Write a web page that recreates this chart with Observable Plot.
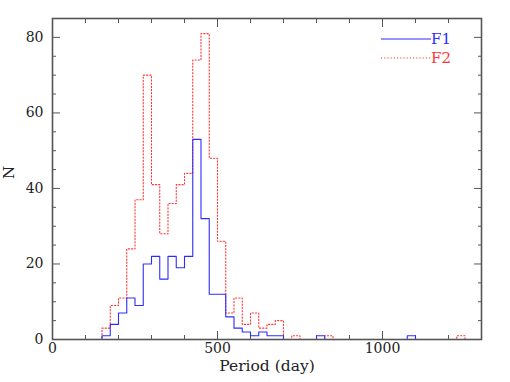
<!DOCTYPE html>
<html>
<head>
<meta charset="utf-8">
<script src="https://cdn.jsdelivr.net/npm/d3@7"></script>
<script src="https://cdn.jsdelivr.net/npm/@observablehq/plot@0.6"></script>
<style>
  html, body { margin: 0; padding: 0; background: #fff; }
  #wrap { position: relative; width: 510px; height: 382px; }
  .leg { position: absolute; font: 15px "DejaVu Serif", serif; display: flex; align-items: center; }
</style>
</head>
<body>
<div id="wrap"></div>
<script>
// Histogram of periods, bin width 25 days, bins start at 0 and end at 1300
const binWidth = 25;
const xMax = 1300;
const seriesNames = ["F1", "F2"];
const seriesColors = ["#2d2dff", "#ff3535"];
const f1Counts = [0,0,0,0,0,0, 1,4,7,11,9,20,22,16,22,19,22,53,32,12,12,6,3,2,1,2,1,1, 0,0,0,0, 1, 0,0,0,0,0,0,0,0,0,0, 1, 0,0,0,0,0,0,0,0];
const f2Counts = [0,0,0,0,0,0, 3,9,11,24,37,70,41,28,36,41,44,74,81,48,26,7,11,4,7,3,4,5, 0,1,0,0,0, 1, 0,0,0,0,0,0,0,0,0,0,0,0,0,0,0, 1, 0,0];
const xTickLabels = [0, 500, 1000];
const yTickLabels = [0, 20, 40, 60, 80];

function steps(counts, name) {
  const pts = counts.map((c, i) => ({x: i * binWidth, y: c, s: name}));
  pts.push({x: counts.length * binWidth, y: counts[counts.length - 1], s: name});
  return pts;
}
const f1 = steps(f1Counts, "F1");
const f2 = steps(f2Counts, "F2");

const majorX = d3.range(0, xMax + 1, 500);
const minorX = d3.range(0, xMax + 1, 100).filter(d => d % 500 !== 0);
const majorY = d3.range(0, 86, 20);
const minorY = d3.range(0, 86, 5).filter(d => d % 20 !== 0);
const axisColor = "#555";
const font = "DejaVu Serif";
const plain = d => String(d);

const chart = Plot.plot({
  width: 510,
  height: 382,
  marginLeft: 52,
  marginRight: 29,
  marginTop: 18,
  marginBottom: 43,
  style: {fontFamily: font, fontSize: "14px", color: "#222", background: "#fff"},
  x: {domain: [0, xMax], axis: null},
  y: {domain: [0, 85], axis: null},
  marks: [
    // inward ticks on all four sides
    Plot.axisX({anchor: "bottom", ticks: majorX, tickSize: -8, tickFormat: () => "", label: null, stroke: axisColor}),
    Plot.axisX({anchor: "bottom", ticks: minorX, tickSize: -4, tickFormat: () => "", label: null, stroke: axisColor}),
    Plot.axisX({anchor: "top", ticks: majorX, tickSize: -8, tickFormat: () => "", label: null, stroke: axisColor}),
    Plot.axisX({anchor: "top", ticks: minorX, tickSize: -4, tickFormat: () => "", label: null, stroke: axisColor}),
    Plot.axisY({anchor: "left", ticks: majorY, tickSize: -8, tickFormat: () => "", label: null, stroke: axisColor}),
    Plot.axisY({anchor: "left", ticks: minorY, tickSize: -4, tickFormat: () => "", label: null, stroke: axisColor}),
    Plot.axisY({anchor: "right", ticks: majorY, tickSize: -8, tickFormat: () => "", label: null, stroke: axisColor}),
    Plot.axisY({anchor: "right", ticks: minorY, tickSize: -4, tickFormat: () => "", label: null, stroke: axisColor}),
    // tick labels
    Plot.axisX({anchor: "bottom", ticks: xTickLabels, tickFormat: plain, tickSize: 0, tickPadding: 4, label: null, fontSize: 14, fill: "#222"}),
    Plot.axisY({anchor: "left", ticks: yTickLabels, tickFormat: plain, tickSize: 0, tickPadding: 9, label: null, fontSize: 14, fill: "#222"}),
    // histograms
    Plot.line(f2, {x: "x", y: "y", curve: "step-after", stroke: seriesColors[1], strokeWidth: 1.1, strokeDasharray: "1.2,2"}),
    Plot.line(f1, {x: "x", y: "y", curve: "step-after", stroke: seriesColors[0], strokeWidth: 1.1}),
    Plot.frame({stroke: axisColor, strokeWidth: 1.6}),
    // axis titles
    Plot.text({length: 1}, {frameAnchor: "bottom", text: ["Period (day)"], dy: 31, fontSize: 15.5, fill: "#222"}),
    Plot.text({length: 1}, {frameAnchor: "left", text: ["N"], dx: -43, rotate: -90, fontSize: 15, fill: "#222"})
  ]
});
const wrap = document.getElementById("wrap");
wrap.appendChild(chart);

// legend (top right, inside the frame)
const legendTop = [30, 49];
seriesNames.forEach((name, i) => {
  const row = document.createElement("div");
  row.className = "leg";
  row.style.left = "381px";
  row.style.top = legendTop[i] + "px";
  row.style.color = seriesColors[i];
  row.innerHTML = `<svg width="50" height="14"><line x1="0" x2="50" y1="7" y2="7" stroke="${seriesColors[i]}" stroke-width="1.1" ${i === 1 ? 'stroke-dasharray="1.2,2"' : ''}/></svg><span>${name}</span>`;
  wrap.appendChild(row);
});
</script>
</body>
</html>
